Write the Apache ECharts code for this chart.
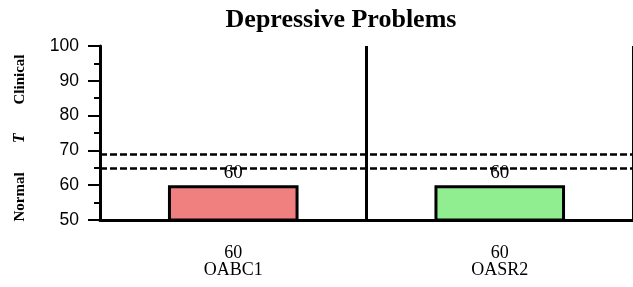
<!DOCTYPE html>
<html>
<head>
	<meta charset="utf-8"/>
	<title>Depressive Problems</title>
	<style>
		* { margin: 0; padding: 0; }
		html, body { width: 633px; height: 287px; background: #fff; }
		#main { width: 633px; height: 287px; }
	</style>
</head>
<body>
	<div id="main"></div>
	<script src="https://cdn.jsdelivr.net/npm/echarts@6/dist/echarts.min.js"></script>
	<script>
		var categories = ['OABC1', 'OASR2'];
		var scores = [60, 60];
		var barColors = ['#F08080', '#90EE90'];
		var cutoffs = [69, 65];
		var yTicks = [50, 100, 10];   // min, max, interval

		var chart = echarts.init(document.getElementById('main'));

		var option = {
			animation: false,
			title: {
				text: 'Depressive Problems',
				left: 336,
				top: 2,
				textAlign: 'center',
				textStyle: { fontFamily: 'Liberation Serif', fontWeight: 'bold', fontSize: 26, color: '#000' }
			},
			grid: { left: 100, right: 0, top: 46, bottom: 67 },
			xAxis: {
				type: 'category',
				data: categories,
				axisLine: { lineStyle: { color: '#000', width: 3 } },
				axisTick: { length: 12, lineStyle: { color: '#000', width: 3 } },
				splitLine: { show: true, lineStyle: { color: '#000', width: 3 } },
				axisLabel: {
					margin: 25,
					fontFamily: 'Liberation Serif',
					fontSize: 18,
					lineHeight: 17,
					color: '#000',
					formatter: function (v, i) { return scores[i] + '\n' + v; }
				}
			},
			yAxis: {
				type: 'value',
				min: yTicks[0],
				max: yTicks[1],
				interval: yTicks[2],
				name: '{b|Normal}{i|T}{b|Clinical}',
				nameLocation: 'middle',
				nameRotate: 90,
				nameGap: 72,
				nameTextStyle: {
					padding: [0, 10, 0, 0],
					rich: {
						b: { fontFamily: 'Liberation Serif', fontWeight: 'bold', fontSize: 15, color: '#000' },
						i: { fontFamily: 'Liberation Serif', fontWeight: 'bold', fontStyle: 'italic', fontSize: 16, color: '#000', padding: [0, 29, 0, 29] }
					}
				},
				axisLine: { show: true, lineStyle: { color: '#000', width: 3 } },
				axisTick: { show: true, length: 12, lineStyle: { color: '#000', width: 2 } },
				minorTick: { show: true, splitNumber: 2, length: 6, lineStyle: { color: '#000', width: 2 } },
				splitLine: { show: false },
				axisLabel: { fontFamily: 'Liberation Sans', fontSize: 17.5, color: '#000', margin: 21 }
			},
			series: [{
				type: 'bar',
				barWidth: '49%',
				data: scores.map(function (s, i) {
					return { value: s, itemStyle: { color: barColors[i] } };
				}),
				itemStyle: { borderColor: '#000', borderWidth: 3 },
				label: {
					show: true,
					position: 'top',
					distance: 3,
					fontFamily: 'Liberation Serif',
					fontSize: 19,
					color: '#000'
				},
				markLine: {
					silent: true,
					symbol: 'none',
					label: { show: false },
					lineStyle: { color: '#000', width: 2.5, type: [7, 3] },
					data: cutoffs.map(function (c) { return { yAxis: c }; })
				}
			}]
		};

		chart.setOption(option);
	</script>
</body>
</html>
